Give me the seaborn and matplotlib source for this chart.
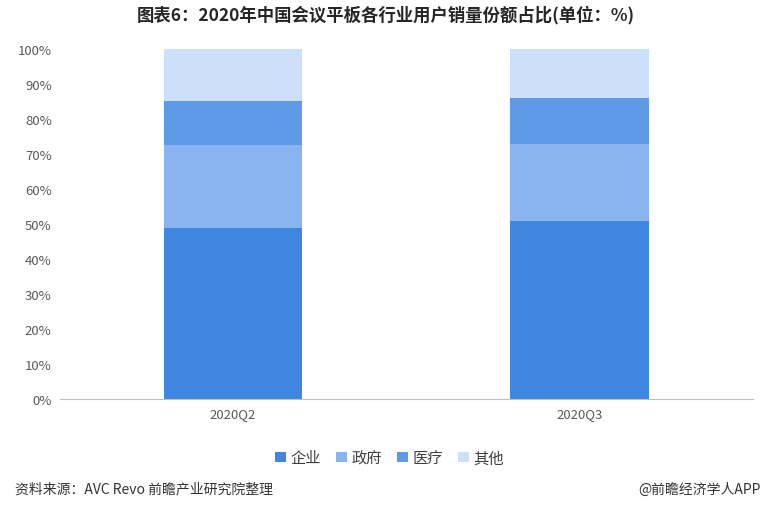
import seaborn as sns
import matplotlib.pyplot as plt
import pandas as pd
import numpy as np

# quarters and share of each user segment (%)
quarters = ["2020Q2", "2020Q3"]
qiye = [48.8, 50.9]      # 企业
zhengfu = [23.8, 22.0]   # 政府
yiliao = [12.5, 13.1]    # 医疗
qita = [14.9, 14.0]      # 其他

segments = ["企业", "政府", "医疗", "其他"]
colors = ["#3F86E0", "#8AB4F0", "#5E9AE6", "#CCE0FC"]

sns.set_style("white")
plt.rcParams['font.family'] = ['Noto Sans CJK SC', 'DejaVu Sans']

fig = plt.figure(figsize=(7.72, 5.06), dpi=100)
ax = fig.add_axes([0.0777, 0.2095, 0.8973, 0.6915])

df = pd.DataFrame({"quarter": quarters, "企业": qiye, "政府": zhengfu,
                   "医疗": yiliao, "其他": qita})
cum = df[segments].cumsum(axis=1)

# draw stacked bars from the top layer down
for seg, col in reversed(list(zip(segments, colors))):
    sns.barplot(x=df["quarter"], y=cum[seg], color=col, width=0.4,
                saturation=1, ax=ax, label=seg, linewidth=0)

ax.set_ylim(0, 100)
ax.set_xlim(-0.5, 1.5)
ax.set_yticks(np.arange(0, 101, 10))
ax.set_yticklabels([f"{v}%" for v in range(0, 101, 10)])
ax.set_xlabel("")
ax.set_ylabel("")
ax.tick_params(axis='both', labelsize=9.5, colors="#595959", length=0, pad=6)
for s in ["top", "right", "left"]:
    ax.spines[s].set_visible(False)
ax.spines["bottom"].set_color("#BFBFBF")

handles, labels = ax.get_legend_handles_labels()
order = [labels.index(s) for s in segments]
ax.legend([handles[i] for i in order], segments, loc="upper center",
          bbox_to_anchor=(0.476, -0.105), ncol=4, frameon=False,
          fontsize=11, handlelength=0.7, handleheight=0.7,
          handletextpad=0.3, columnspacing=1.0, labelcolor="#404040")

fig.text(0.5, 0.97, "图表6：2020年中国会议平板各行业用户销量份额占比(单位：%)",
         ha="center", va="center", fontsize=12.5, fontweight="bold", color="#262626")
fig.text(0.02, 0.032, "资料来源：AVC Revo 前瞻产业研究院整理", ha="left", va="center",
         fontsize=10, color="#333333")
fig.text(0.985, 0.032, "@前瞻经济学人APP", ha="right", va="center",
         fontsize=10, color="#333333")

fig.savefig("out.png", dpi=100)
